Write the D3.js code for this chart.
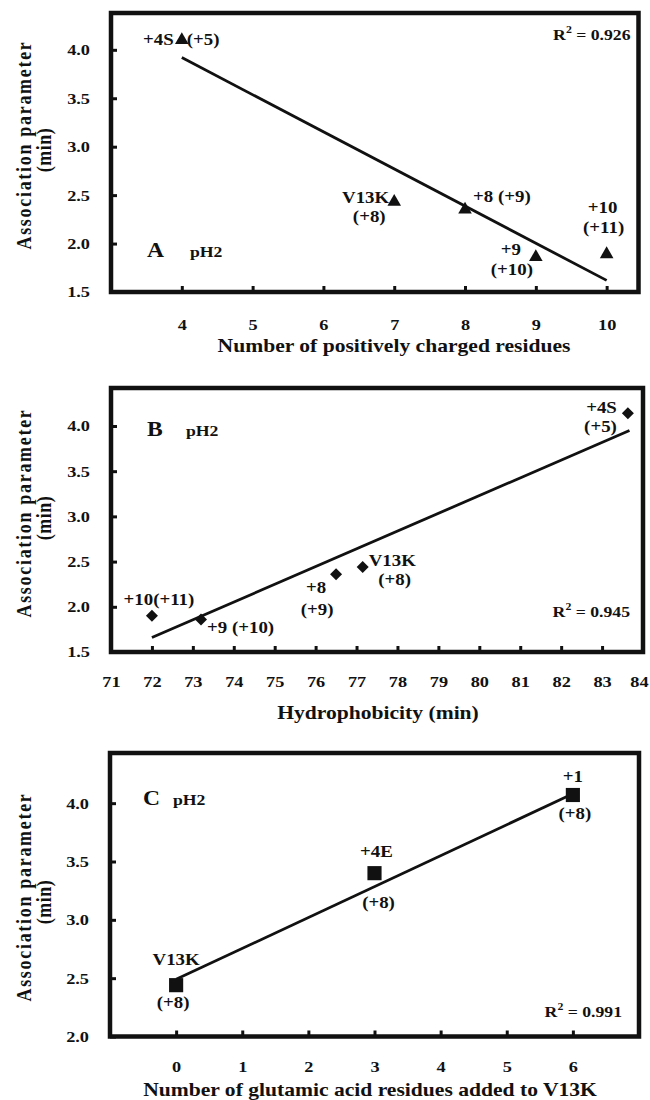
<!DOCTYPE html>
<html>
<head>
<meta charset="utf-8">
<script src="https://cdn.jsdelivr.net/npm/d3@7"></script>
<style>
  body { margin: 0; background: #fff; }
  svg text { font-family: "Liberation Serif", "Times New Roman", serif; font-weight: bold; fill: #111; }
</style>
</head>
<body>
<script>
// Panel A: association parameter vs number of positively charged residues
const aNames = ["+4S", "V13K", "+8", "+9", "+10"];
const aX = [4, 7, 8, 9, 10];
const aY = [4.10, 2.43, 2.35, 1.86, 1.89];
const aTrend = [[4, 3.92], [10, 1.62]];
const aXTicks = [4, 5, 6, 7, 8, 9, 10];
const aYTicks = [1.5, 2.0, 2.5, 3.0, 3.5, 4.0];

// Panel B: vs hydrophobicity
const bNames = ["+10", "+9", "+8", "V13K", "+4S"];
const bX = [72.0, 73.2, 76.5, 77.15, 83.63];
const bY = [1.90, 1.86, 2.36, 2.44, 4.14];
const bTrend = [[72, 1.66], [83.67, 3.95]];
const bXTicks = [71, 72, 73, 74, 75, 76, 77, 78, 79, 80, 81, 82, 83, 84];
const bYTicks = [1.5, 2.0, 2.5, 3.0, 3.5, 4.0];

// Panel C: vs glutamic acid residues added
const cNames = ["V13K", "+4E", "+1"];
const cX = [0, 3, 6];
const cY = [2.44, 3.40, 4.07];
const cTrend = [[0, 2.49], [6, 4.08]];
const cXTicks = [0, 1, 2, 3, 4, 5, 6];
const cYTicks = [2.0, 2.5, 3.0, 3.5, 4.0];

const yTitle = ["Association parameter", "(min)"];

const SX = 1.18; // the scanned figure's type is a bit wider than Liberation Serif

const svg = d3.select("body").append("svg")
    .attr("width", 650)
    .attr("height", 1100);

// text anchored at (x, y), widened horizontally
function label(g, x, y, txt, size, anchor) {
    return g.append("text")
        .attr("transform", `translate(${x},${y}) scale(${SX},1)`)
        .attr("text-anchor", anchor || "middle")
        .attr("font-size", size)
        .text(txt);
}

function drawPanel(p) {
    const x = d3.scaleLinear().domain(p.xDomain).range([p.left, p.right]);
    const y = d3.scaleLinear().domain(p.yDomain).range([p.bottom, p.top]);
    const g = svg.append("g");

    // axes with inward ticks
    const xAxis = g.append("g")
        .attr("transform", `translate(0,${p.bottom})`)
        .call(d3.axisBottom(x).tickValues(p.xTicks).tickSize(-6).tickPadding(p.xPad).tickFormat(d3.format("d")));
    const yAxis = g.append("g")
        .attr("transform", `translate(${p.left},0)`)
        .call(d3.axisLeft(y).tickValues(p.yTicks).tickSize(-6).tickPadding(21).tickFormat(d3.format(".1f")));
    [xAxis, yAxis].forEach(ax => {
        ax.select(".domain").remove();
        ax.selectAll(".tick line").attr("stroke", "#111").attr("stroke-width", 3);
        ax.selectAll(".tick text").attr("font-size", 15.5).attr("fill", "#111")
            .attr("font-family", "Liberation Serif, serif").attr("font-weight", "bold");
    });
    // last x label sits at the page edge, nudge it in a little
    const lastX = p.xTicks[p.xTicks.length - 1];
    xAxis.selectAll(".tick text")
        .attr("transform", d => `translate(${x(d) > 630 ? -4 : 0},0) scale(${SX},1)`);
    yAxis.selectAll(".tick text").each(function() {
        const t = d3.select(this);
        t.attr("transform", `translate(${t.attr("x")},0) scale(${SX},1)`).attr("x", 0);
    });

    // frame
    g.append("rect")
        .attr("x", p.left).attr("y", p.top)
        .attr("width", p.right - p.left).attr("height", p.bottom - p.top)
        .attr("fill", "none").attr("stroke", "#111").attr("stroke-width", 4.5);

    // trend line
    g.append("path")
        .attr("d", d3.line().x(d => x(d[0])).y(d => y(d[1]))(p.trend))
        .attr("fill", "none").attr("stroke", "#111").attr("stroke-width", 2.8);

    // markers
    const pts = p.xs.map((v, i) => ({ x: v, y: p.ys[i], name: p.names[i] }));
    g.selectAll("path.pt").data(pts).enter().append("path")
        .attr("class", "pt")
        .attr("d", d3.symbol().type(p.symbol).size(p.symbolSize))
        .attr("transform", d => `translate(${x(d.x)},${y(d.y)}) rotate(${p.rotate || 0})`)
        .attr("fill", "#111");

    // point labels, offsets in pixels from their marker
    p.labels.forEach(l => {
        const d = pts[l.i];
        label(g, x(d.x) + l.dx, y(d.y) + l.dy, l.text, 16, l.anchor);
    });

    // panel letter and pH
    label(g, p.letterX, p.letterY, p.letter, 20, "start");
    label(g, p.phX, p.letterY, "pH2", 15, "start");

    // R squared
    const r = g.append("text")
        .attr("transform", `translate(${p.right - p.rRight},${p.rY}) scale(${SX},1)`)
        .attr("text-anchor", "end").attr("font-size", 15);
    r.append("tspan").text("R");
    r.append("tspan").attr("font-size", 10).attr("dy", -7).text("2");
    r.append("tspan").attr("dy", 7).text(" = " + p.r2);

    // axis titles
    yTitle.forEach((t, i) => {
        g.append("text")
            .attr("transform", `translate(${i === 0 ? 31 : 51},${p.yTitleY + (i === 0 ? -5 : 0)}) scale(${SX},1) rotate(-90)`)
            .attr("text-anchor", "middle").attr("font-size", 18)
            .attr("letter-spacing", i === 0 ? 1.7 : 0.5)
            .text(t);
    });
    label(g, p.xTitleX, p.xTitleY, p.xTitle, 18.3, "middle");
}

drawPanel({
    left: 111, right: 638.5, top: 13, bottom: 292,
    xDomain: [3, 10.45], yDomain: [1.5, 4.38],
    xTicks: aXTicks, yTicks: aYTicks, xPad: 27,
    xs: aX, ys: aY, names: aNames, trend: aTrend,
    symbol: d3.symbolTriangle, symbolSize: 80,
    labels: [
        { i: 0, text: "+4S", dx: -8, dy: 5, anchor: "end" },
        { i: 0, text: "(+5)", dx: 5, dy: 5, anchor: "start" },
        { i: 1, text: "V13K", dx: -5, dy: 1, anchor: "end" },
        { i: 1, text: "(+8)", dx: -25, dy: 20 },
        { i: 2, text: "+8 (+9)", dx: 8, dy: -8, anchor: "start" },
        { i: 3, text: "+9", dx: -25, dy: -2 },
        { i: 3, text: "(+10)", dx: -24, dy: 18 },
        { i: 4, text: "+10", dx: -4, dy: -41 },
        { i: 4, text: "(+11)", dx: -3, dy: -21 }
    ],
    letter: "A", letterX: 147, phX: 190, letterY: 257,
    r2: "0.926", rRight: 8, rY: 40,
    yTitleY: 150,
    xTitle: "Number of positively charged residues", xTitleX: 394, xTitleY: 352
});

drawPanel({
    left: 111, right: 643, top: 388, bottom: 652,
    xDomain: [71, 84], yDomain: [1.5, 4.42],
    xTicks: bXTicks, yTicks: bYTicks, xPad: 24,
    xs: bX, ys: bY, names: bNames, trend: bTrend,
    symbol: d3.symbolSquare, symbolSize: 72, rotate: 45,
    labels: [
        { i: 0, text: "+10(+11)", dx: 7, dy: -11 },
        { i: 1, text: "+9 (+10)", dx: 6, dy: 14, anchor: "start" },
        { i: 2, text: "+8", dx: -20, dy: 19 },
        { i: 2, text: "(+9)", dx: -19, dy: 41 },
        { i: 3, text: "V13K", dx: 6, dy: -1, anchor: "start" },
        { i: 3, text: "(+8)", dx: 32, dy: 18 },
        { i: 4, text: "+4S", dx: -11, dy: 0, anchor: "end" },
        { i: 4, text: "(+5)", dx: -11, dy: 19, anchor: "end" }
    ],
    letter: "B", letterX: 147, phX: 186, letterY: 436,
    r2: "0.945", rRight: 13, rY: 617,
    yTitleY: 518,
    xTitle: "Hydrophobicity (min)", xTitleX: 378, xTitleY: 719
});

drawPanel({
    left: 110, right: 639, top: 753, bottom: 1036.5,
    xDomain: [-1, 7], yDomain: [2.0, 4.43],
    xTicks: cXTicks, yTicks: cYTicks, xPad: 24,
    xs: cX, ys: cY, names: cNames, trend: cTrend,
    symbol: d3.symbolSquare, symbolSize: 200,
    labels: [
        { i: 0, text: "V13K", dx: 0, dy: -20 },
        { i: 0, text: "(+8)", dx: -3, dy: 23 },
        { i: 1, text: "+4E", dx: 2, dy: -16 },
        { i: 1, text: "(+8)", dx: 4, dy: 35 },
        { i: 2, text: "+1", dx: 0, dy: -13 },
        { i: 2, text: "(+8)", dx: 2, dy: 24 }
    ],
    letter: "C", letterX: 143, phX: 173, letterY: 805,
    r2: "0.991", rRight: 17, rY: 1017,
    yTitleY: 902,
    xTitle: "Number of glutamic acid residues added to V13K", xTitleX: 370, xTitleY: 1096
});
</script>
</body>
</html>
